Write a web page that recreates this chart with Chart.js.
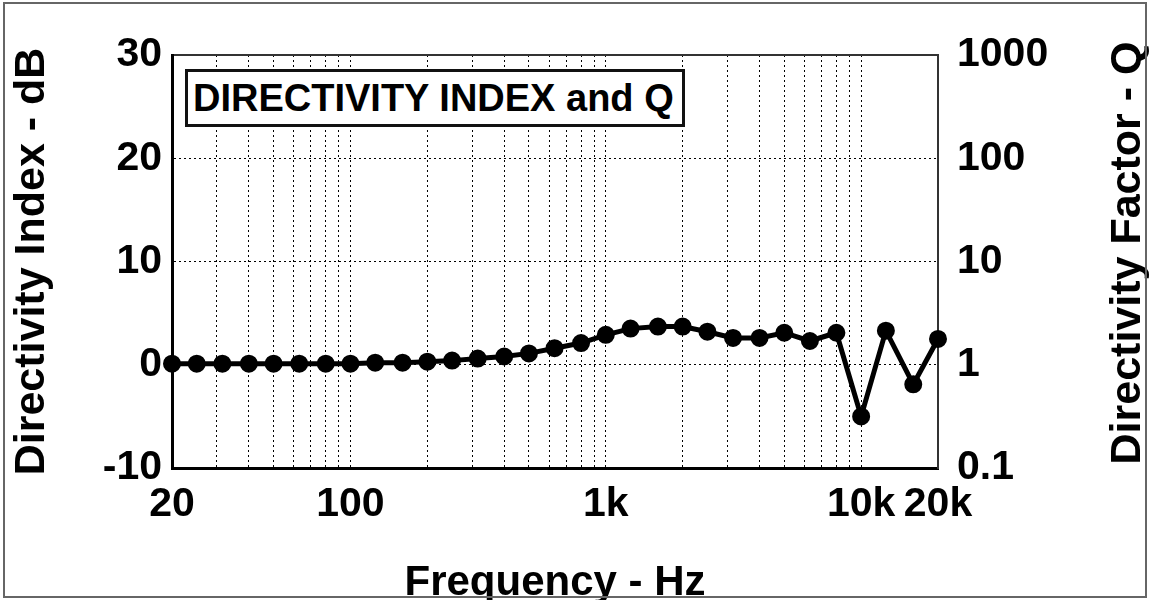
<!DOCTYPE html>
<html>
<head>
<meta charset="utf-8">
<script src="https://cdn.jsdelivr.net/npm/chart.js@4"></script>
<style>
  html, body { margin: 0; padding: 0; background: #fff; }
  #wrap { position: relative; width: 1150px; height: 600px; overflow: hidden; }
  #frame { position: absolute; left: 3px; top: 2px; width: 1144px; height: 596px;
           box-sizing: border-box; border: 2px solid #666; pointer-events: none; }
  #titleBox { position: absolute; left: 185px; top: 69px; width: 500px; height: 58px;
              box-sizing: border-box; border: 3px solid #111; background: #fff;
              font: bold 38px "Liberation Sans", Arial, sans-serif; line-height: 52px;
              padding-left: 5px; white-space: nowrap; color: #000; }
  #rightTitle { position: absolute; left: 1125px; top: 253px; white-space: nowrap;
                font: bold 43px "Liberation Sans", Arial, sans-serif; line-height: 1; color: #000;
                transform: translate(-50%, -50%) rotate(-90deg); }
</style>
</head>
<body>
<div id="wrap">
  <canvas id="diChart" width="1150" height="600"></canvas>
  <div id="titleBox">DIRECTIVITY INDEX and Q</div>
  <div id="rightTitle">Directivity Factor - Q</div>
  <div id="frame"></div>
</div>
<script>
// 1/3 octave centre frequencies, Hz
const freqs = [20, 25, 31.5, 40, 50, 63, 80, 100, 125, 160, 200, 250, 315, 400, 500, 630, 800,
               1000, 1250, 1600, 2000, 2500, 3150, 4000, 5000, 6300, 8000, 10000, 12500, 16000, 20000];
// directivity index, dB
const diValues = [0.1, 0.1, 0.1, 0.1, 0.1, 0.1, 0.1, 0.1, 0.2, 0.2, 0.3, 0.4, 0.6, 0.8, 1.1, 1.6, 2.1,
                  2.9, 3.5, 3.7, 3.7, 3.2, 2.6, 2.6, 3.1, 2.3, 3.1, -5.0, 3.3, -1.9, 2.5];

// x grid lines and the labelled ones
const xGridTicks = [20, 30, 40, 50, 60, 70, 80, 90, 100, 200, 300, 400, 500, 600, 700, 800, 900,
                    1000, 2000, 3000, 4000, 5000, 6000, 7000, 8000, 9000, 10000, 20000];
const xTickLabels = { 20: "20", 100: "100", 1000: "1k", 10000: "10k", 20000: "20k" };
const diTicks = [-10, 0, 10, 20, 30];
const qTicks = [0.1, 1, 10, 100, 1000];

const FONT = "'Liberation Sans', Arial, sans-serif";

document.addEventListener("DOMContentLoaded", () => {
    const ctx = document.getElementById("diChart").getContext("2d");

    new Chart(ctx, {
        type: "line",
        data: {
            datasets: [{
                data: freqs.map((f, i) => ({ x: f, y: diValues[i] })),
                borderColor: "#000",
                backgroundColor: "#000",
                borderWidth: 5,
                pointRadius: 6.5,
                pointBackgroundColor: "#000",
                pointBorderColor: "#000",
                tension: 0,
                clip: false,
                xAxisID: "x",
                yAxisID: "y",
            }]
        },
        options: {
            responsive: false,
            animation: false,
            devicePixelRatio: 1,
            layout: { padding: 0 },
            plugins: { legend: { display: false }, tooltip: { enabled: false } },
            scales: {
                x: {
                    type: "logarithmic",
                    position: "bottom",
                    min: 20,
                    max: 20000,
                    afterBuildTicks: s => { s.ticks = xGridTicks.map(v => ({ value: v })); },
                    afterFit: s => { s.height = 132; },
                    ticks: {
                        autoSkip: false, maxRotation: 0, minRotation: 0, padding: 12,
                        color: "#000", font: { family: FONT, size: 41, weight: "bold" },
                        callback: v => xTickLabels[v] || "",
                    },
                    grid: { color: "#000", lineWidth: 1, drawTicks: false },
                    border: { color: "#000", width: 3, dash: [2, 3] },
                    title: {
                        display: true, text: "Frequency - Hz", color: "#000",
                        font: { family: FONT, size: 42, weight: "bold", lineHeight: 0.8 },
                        padding: { top: 0, bottom: 0 },
                    },
                },
                xTop: {
                    type: "linear",
                    position: "top",
                    display: true,
                    afterFit: s => { s.height = 55; },
                    ticks: { display: false },
                    grid: { drawOnChartArea: false, drawTicks: false },
                    border: { color: "#333", width: 2 },
                },
                y: {
                    type: "linear",
                    position: "left",
                    min: -10,
                    max: 30,
                    afterBuildTicks: s => { s.ticks = diTicks.map(v => ({ value: v })); },
                    afterFit: s => { s.width = 172; },
                    ticks: {
                        padding: 10, color: "#000",
                        font: { family: FONT, size: 41, weight: "bold" },
                    },
                    grid: { color: "#000", lineWidth: 1, drawTicks: false },
                    border: { color: "#000", width: 3, dash: [2, 3] },
                    title: {
                        display: true, text: "Directivity Index - dB", color: "#000",
                        font: { family: FONT, size: 43, weight: "bold" },
                        padding: { top: 6, bottom: 0 },
                    },
                },
                y2: {
                    type: "logarithmic",
                    position: "right",
                    display: true,
                    min: 0.1,
                    max: 1000,
                    afterBuildTicks: s => { s.ticks = qTicks.map(v => ({ value: v })); },
                    afterFit: s => { s.width = 212; },
                    ticks: {
                        padding: 19, color: "#000",
                        font: { family: FONT, size: 41, weight: "bold" },
                        callback: v => String(v),
                    },
                    grid: { drawOnChartArea: false, drawTicks: false },
                    border: { color: "#333", width: 2 },
                },
            }
        }
    });
});
</script>
</body>
</html>
